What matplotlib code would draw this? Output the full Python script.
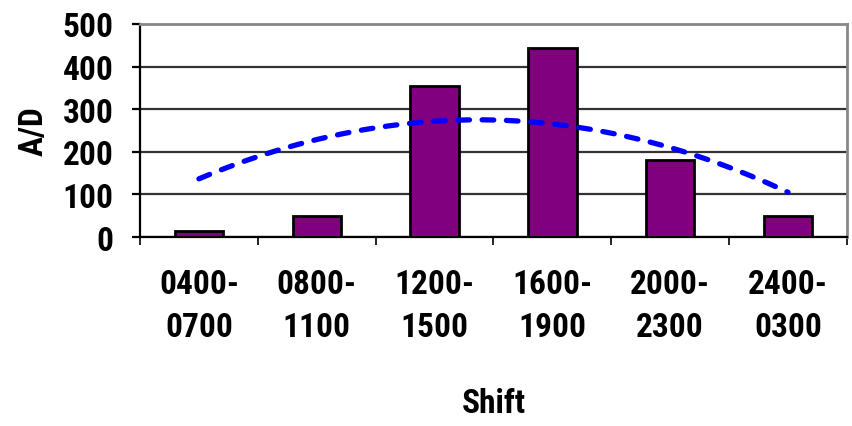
import numpy as np
import matplotlib
matplotlib.use("Agg")
import matplotlib.pyplot as plt
from matplotlib import font_manager as fm

shifts = ["0400-\n0700", "0800-\n1100", "1200-\n1500", "1600-\n1900", "2000-\n2300", "2400-\n0300"]
ad_counts = [15, 50, 355, 443, 180, 50]
trend_values = [136, 230, 271, 265, 210, 105]
y_ticks = [0, 100, 200, 300, 400, 500]

installed = {f.name for f in fm.fontManager.ttflist}
preferred = ["Arial Narrow", "Liberation Sans Narrow", "Roboto Condensed", "Archivo Narrow",
             "PT Sans Narrow", "Pragati Narrow", "Liberation Sans"]
family = next(f for f in preferred if f in installed)
plt.rcParams["font.family"] = [family, "DejaVu Sans"]

fig = plt.figure(figsize=(8.52, 4.27), dpi=100)
ax = fig.add_axes([0.1643, 0.4426, 0.8298, 0.4989])

x = np.arange(1, len(ad_counts) + 1)
ax.bar(x, ad_counts, width=0.41, color="#800080", edgecolor="black", linewidth=2, zorder=3)

# second-order trend curve through the trend series
coef = np.polyfit(x, trend_values, 2)
xs = np.linspace(x[0], x[-1], 200)
ax.plot(xs, np.polyval(coef, xs), color="#0000FF", linewidth=3.8,
        linestyle=(0, (2.2, 2.4)), dash_capstyle="round", zorder=4)

ax.set_xlim(0.5, len(ad_counts) + 0.5)
ax.set_ylim(0, 500)
ax.set_yticks(y_ticks)
ax.yaxis.grid(True, color="#333333", linewidth=1.6, zorder=1)
ax.set_axisbelow(True)

fs = 24
ax.set_xticks(x)
ax.set_xticklabels(shifts, fontsize=fs, fontweight="bold", linespacing=1.45)
ax.set_xticks(np.arange(0.5, len(ad_counts) + 1, 1), minor=True)
ax.tick_params(axis="x", which="major", length=0, pad=22)
ax.tick_params(axis="x", which="minor", length=6, width=1.2, direction="out")
ax.tick_params(axis="y", length=6, width=1.6, direction="out", pad=13)
for lbl in ax.get_yticklabels():
    lbl.set_fontsize(fs)
    lbl.set_fontweight("bold")

for side in ("top", "right"):
    ax.spines[side].set_color("#888888")
    ax.spines[side].set_linewidth(2)
ax.spines["left"].set_color("black")
ax.spines["left"].set_linewidth(1.6)
ax.spines["bottom"].set_color("black")
ax.spines["bottom"].set_linewidth(1.6)

ax.set_ylabel("A/D", fontsize=fs, fontweight="bold", labelpad=9)
ax.set_xlabel("Shift", fontsize=fs, fontweight="bold", labelpad=32)

fig.savefig("out.png", dpi=100)
